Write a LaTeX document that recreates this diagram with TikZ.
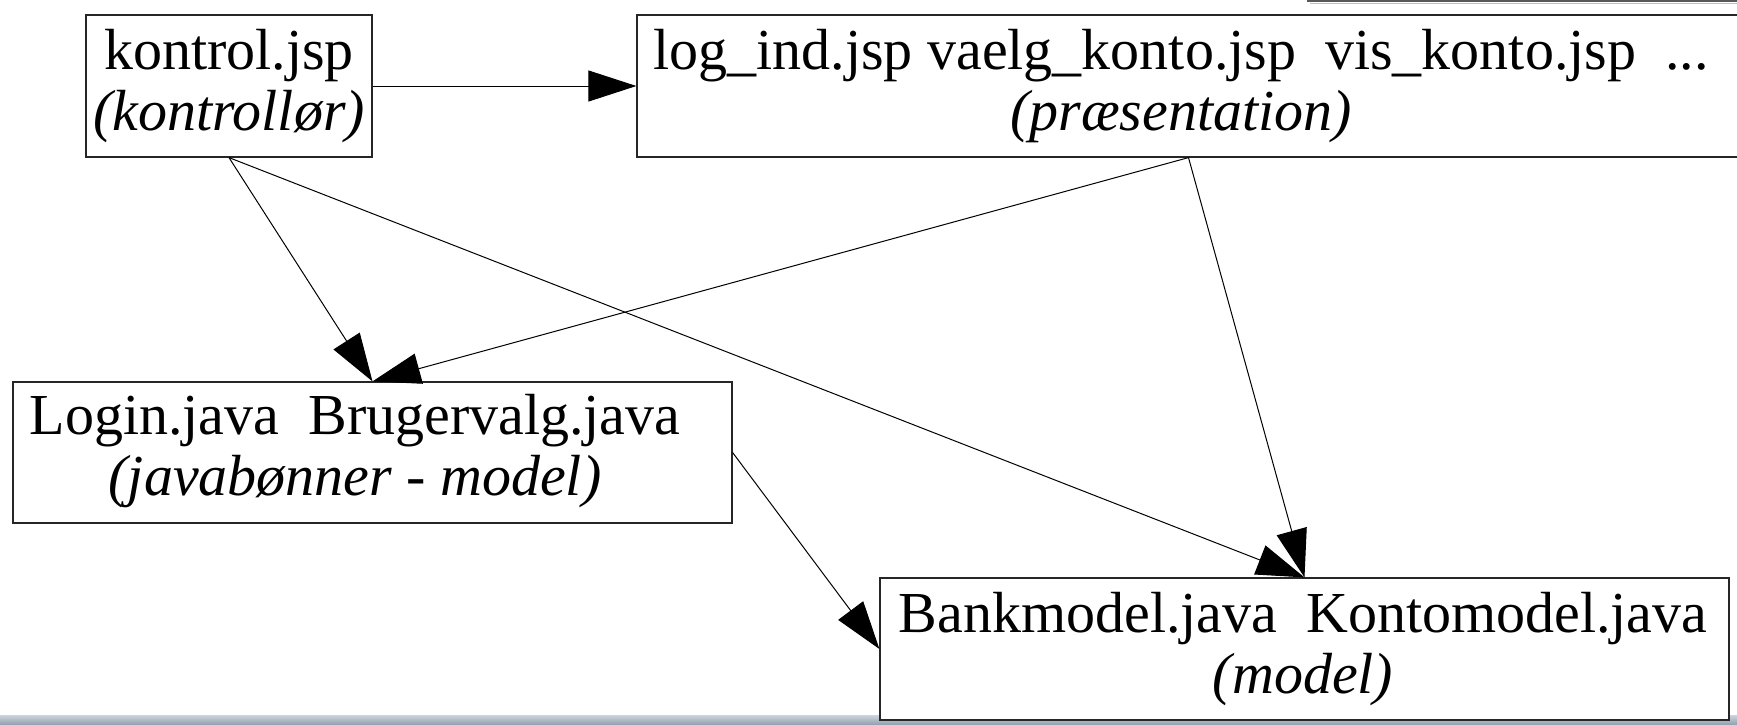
\documentclass[tikz,border=0pt]{standalone}
\usepackage{fontspec}
\setmainfont{Liberation Serif}
\usetikzlibrary{arrows.meta}
\begin{document}
\begin{tikzpicture}[x=0.5pt,y=-0.5pt,
  box/.style={draw=black!85, line width=0.6pt, fill=white, inner sep=0pt, anchor=center},
  txt/.style={align=center, font=\fontsize{29}{30.5}\selectfont, inner sep=0pt},
  conn/.style={draw=black, line width=0.5pt, -{Triangle[length=24pt,width=15.5pt]}}
]
\useasboundingbox (0,0) rectangle (1737,724);
\clip (0,0) rectangle (1737,724);
% bottom bar
\fill[top color={rgb,255:red,205;green,212;blue,222}, bottom color={rgb,255:red,150;green,163;blue,178}] (0,715) rectangle (1737,724);
% top-right fragment
\draw[line width=1pt, black!65] (1308,-6) -- (1308,1) -- (1740,1);
\draw[black!25, line width=0.6pt] (1310,3.2) -- (1740,3.2);
% boxes
\node[box, minimum width=143pt, minimum height=71pt] (k) at (229,86) {};
\node[box, minimum width=551.5pt, minimum height=71pt] (p) at (1188.5,86) {};
\node[box, minimum width=359.5pt, minimum height=70.5pt] (login) at (372.5,452.5) {};
\node[box, minimum width=424.5pt, minimum height=71pt] (model) at (1304.5,649) {};
% texts
\node[txt] (kt) at (229,86.5) {kontrol.jsp\\\itshape (kontrollør)};
\node[txt] (pt) at (1181,86.5) {log\_ind.jsp vaelg\_konto.jsp\ \ vis\_konto.jsp\ \ ...\\\itshape (præsentation)};
\node[txt] (lt) at (355,451.5) {Login.java\ \ Brugervalg.java\\\itshape (javabønner - model)};
\node[txt] (mt) at (1303,649) {Bankmodel.java\ \ Kontomodel.java\\\itshape (model)};
% connectors
\draw[conn] (k.east) -- (p.west);
\draw[conn] (k.south) -- (login.north);
\draw[conn] (k.south) -- (model.north);
\draw[conn] (p.south) -- (login.north);
\draw[conn] (p.south) -- (model.north);
\draw[conn] (login.east) -- (model.west);
\end{tikzpicture}
\end{document}
